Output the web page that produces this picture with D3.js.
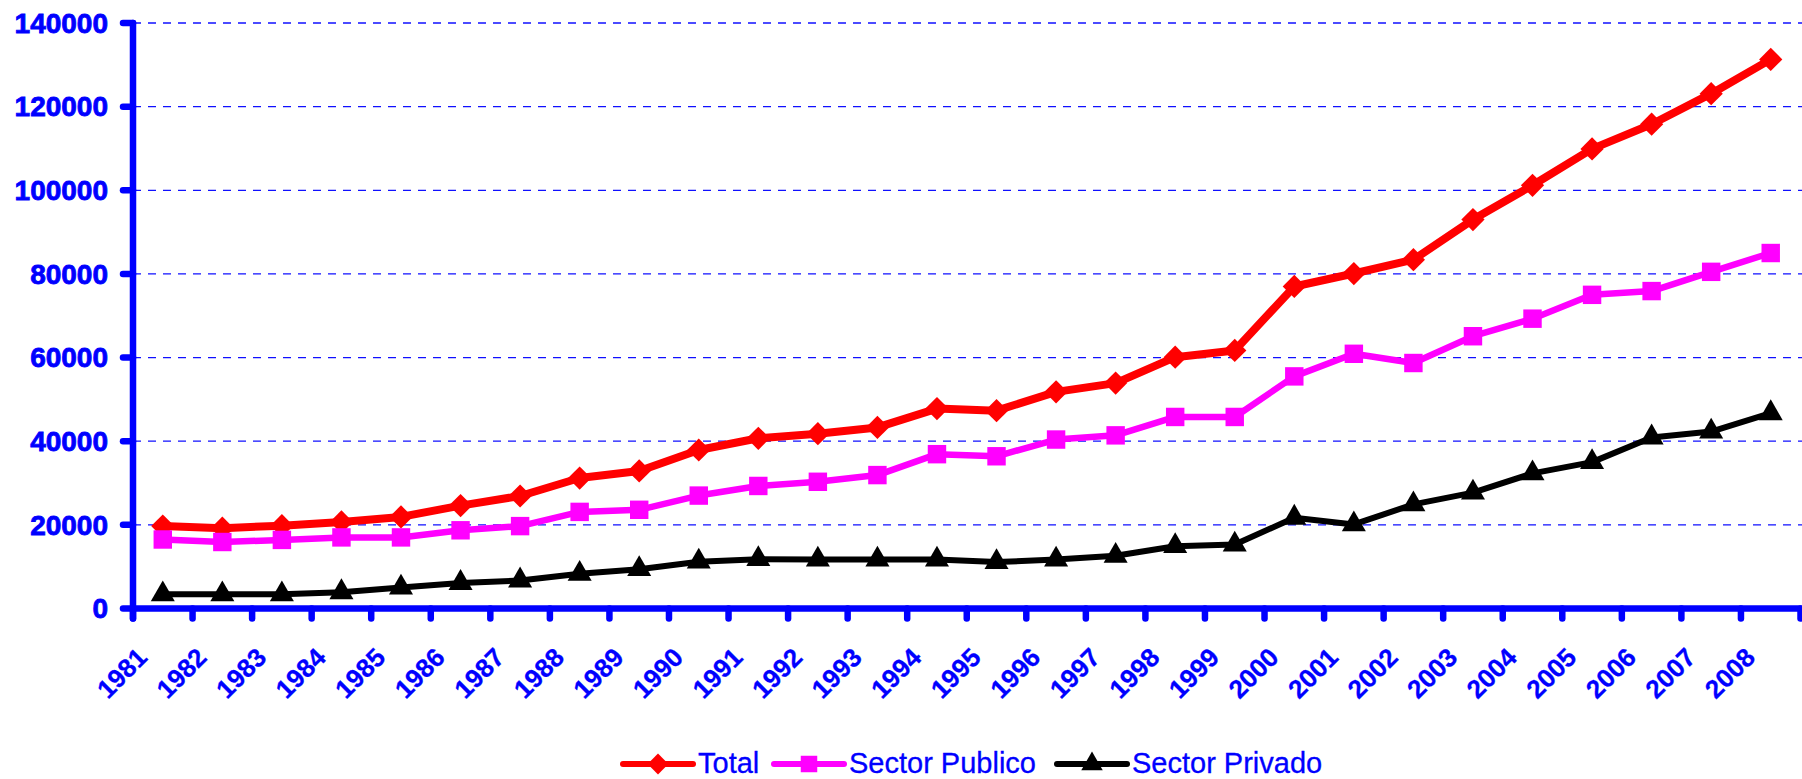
<!DOCTYPE html>
<html lang="en">
<head>
    <meta charset="UTF-8">
    <title>Total, Sector Publico, Sector Privado</title>
    <script src="https://cdnjs.cloudflare.com/ajax/libs/d3/7.8.5/d3.min.js"></script>
    <style>
        body { margin: 0; background: #fff; }
        text { font-family: "Liberation Sans", Arial, sans-serif; }
    </style>
</head>
<body>

<script>
    var width = 1802,
        height = 779;

    // data
    var years = ["1981", "1982", "1983", "1984", "1985", "1986", "1987", "1988", "1989", "1990",
        "1991", "1992", "1993", "1994", "1995", "1996", "1997", "1998", "1999", "2000",
        "2001", "2002", "2003", "2004", "2005", "2006", "2007", "2008"];
    var total = [19700, 19200, 19800, 20700, 21900, 24600, 26900, 31200, 32900, 37900,
        40700, 41800, 43300, 47800, 47300, 51800, 53900, 60100, 61700, 77000,
        80100, 83400, 93000, 101200, 109900, 115800, 123100, 131300];
    var publico = [16500, 15900, 16400, 17000, 17000, 18700, 19700, 23100, 23600, 27000,
        29300, 30300, 31900, 36900, 36400, 40400, 41400, 45800, 45800, 55500,
        60900, 58700, 65100, 69300, 75000, 75900, 80500, 85000];
    var privado = [3400, 3400, 3400, 3900, 5000, 6100, 6700, 8300, 9400, 11200,
        11800, 11700, 11700, 11700, 11100, 11700, 12600, 14900, 15300, 21700,
        20100, 24900, 27700, 32300, 35000, 40900, 42300, 46700];
    var yTicks = [0, 20000, 40000, 60000, 80000, 100000, 120000, 140000];

    // diamond = square turned 45 degrees
    var series = [
        {name: "Total", values: total, color: "#ff0000", width: 8, symbol: d3.symbolSquare, size: 270, rot: 45},
        {name: "Sector Publico", values: publico, color: "#ff00ff", width: 6.5, symbol: d3.symbolSquare, size: 340, rot: 0},
        {name: "Sector Privado", values: privado, color: "#000000", width: 6, symbol: d3.symbolTriangle, size: 250, rot: 0}
    ];

    var blue = "#0000ff";
    var plotLeft = 133, plotRight = 1800.5, plotTop = 23, plotBottom = 608.5;

    var svg = d3.select("body").append("svg")
        .attr("width", width)
        .attr("height", height);

    var x = d3.scaleBand().domain(years).range([plotLeft, plotRight]).padding(0);
    var y = d3.scaleLinear().domain([0, 140000]).range([plotBottom, plotTop]);
    var bw = x.bandwidth();

    //dashed gridlines
    svg.append("g").selectAll("line.grid").data(yTicks.slice(1))
        .enter().append("line")
        .attr("x1", plotLeft).attr("x2", width)
        .attr("y1", function (d) { return y(d); })
        .attr("y2", function (d) { return y(d); })
        .attr("stroke", "#1010ff").attr("stroke-width", 1.3)
        .attr("stroke-dasharray", "8,7");

    //y axis
    var yAxis = svg.append("g");
    yAxis.selectAll("line.tick").data(yTicks)
        .enter().append("line")
        .attr("x1", plotLeft - 10).attr("x2", plotLeft)
        .attr("y1", function (d) { return y(d); })
        .attr("y2", function (d) { return y(d); })
        .attr("stroke", blue).attr("stroke-width", 6.5).attr("stroke-linecap", "round");
    yAxis.append("line")
        .attr("x1", plotLeft).attr("x2", plotLeft)
        .attr("y1", y(140000)).attr("y2", plotBottom + 10)
        .attr("stroke", blue).attr("stroke-width", 6.5).attr("stroke-linecap", "round");
    yAxis.selectAll("text").data(yTicks)
        .enter().append("text")
        .attr("x", 108)
        .attr("y", function (d) { return y(d); })
        .attr("dy", "0.35em")
        .attr("text-anchor", "end")
        .attr("fill", blue).attr("stroke", blue).attr("stroke-width", 0.8)
        .attr("font-size", 28).attr("font-weight", "bold")
        .text(function (d) { return d; });

    //x axis, ticks sit on the band edges
    var xAxis = svg.append("g");
    var edges = years.map(function (d) { return x(d); }).concat([plotRight]);
    xAxis.selectAll("line.tick").data(edges)
        .enter().append("line")
        .attr("x1", function (d) { return d; })
        .attr("x2", function (d) { return d; })
        .attr("y1", plotBottom).attr("y2", plotBottom + 10)
        .attr("stroke", blue).attr("stroke-width", 6.5).attr("stroke-linecap", "round");
    xAxis.append("line")
        .attr("x1", plotLeft).attr("x2", plotRight)
        .attr("y1", plotBottom).attr("y2", plotBottom)
        .attr("stroke", blue).attr("stroke-width", 6.5).attr("stroke-linecap", "round");
    xAxis.selectAll("text").data(years)
        .enter().append("text")
        .attr("transform", function (d) {
            return "translate(" + (x(d) + bw / 2 - 14) + ",659) rotate(-45)";
        })
        .attr("text-anchor", "end")
        .attr("fill", blue).attr("stroke", blue).attr("stroke-width", 0.3)
        .attr("font-size", 26).attr("font-weight", "bold")
        .text(function (d) { return d; });

    //lines and markers
    var line = d3.line()
        .x(function (d, i) { return x(years[i]) + bw / 2; })
        .y(function (d) { return y(d); });

    series.forEach(function (s) {
        var g = svg.append("g");
        g.append("path")
            .attr("d", line(s.values))
            .attr("fill", "none")
            .attr("stroke", s.color)
            .attr("stroke-width", s.width)
            .attr("stroke-linejoin", "round");
        g.selectAll("path.mark").data(s.values)
            .enter().append("path")
            .attr("transform", function (d, i) {
                return "translate(" + (x(years[i]) + bw / 2) + "," + y(d) + ") rotate(" + s.rot + ")";
            })
            .attr("d", d3.symbol().type(s.symbol).size(s.size))
            .attr("fill", s.color);
    });

    //legend
    var legendX = [623, 774, 1057];
    var legend = svg.append("g");
    series.forEach(function (s, i) {
        var lg = legend.append("g").attr("transform", "translate(" + legendX[i] + ",764)");
        lg.append("line")
            .attr("x1", 0).attr("x2", 70)
            .attr("stroke", s.color).attr("stroke-width", 6).attr("stroke-linecap", "round");
        lg.append("path")
            .attr("transform", "translate(35,0) rotate(" + s.rot + ")")
            .attr("d", d3.symbol().type(s.symbol).size(s.size * 0.8))
            .attr("fill", s.color);
        lg.append("text")
            .attr("x", 75).attr("y", 9)
            .attr("fill", blue).attr("stroke", blue).attr("stroke-width", 0.3)
            .attr("font-size", 29)
            .text(s.name);
    });
</script>

</body>
</html>
